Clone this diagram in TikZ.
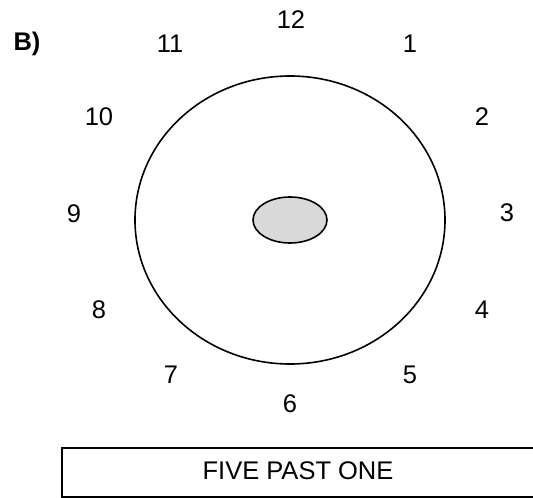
\documentclass[tikz,border=0pt]{standalone}
\usepackage{fontspec}
\setmainfont{Liberation Sans}
\tikzset{
  hour/.style={inner sep=0pt, font=\fontsize{25.5}{30}\selectfont},
}
\begin{document}
\begin{tikzpicture}[x=1pt, y=-1pt]
        \useasboundingbox (0, 0) rectangle (533, 498);
        \coordinate (O) at (290, 220);

        \draw[line width=1.6pt] (O) ellipse [x radius=155, y radius=144];
        \draw[line width=1.6pt, fill=black!15] (O) ellipse [x radius=37, y radius=23];

        \node[hour, font=\fontsize{25.5}{30}\selectfont\bfseries] (label) at (27, 44) {B)};

        \node[hour] (h12) at (291, 20) {12};
        \node[hour] (h1) at (410, 44) {1};
        \node[hour] (h2) at (482, 117) {2};
        \node[hour] (h3) at (507, 213) {3};
        \node[hour] (h4) at (482, 310) {4};
        \node[hour] (h5) at (410, 375) {5};
        \node[hour] (h6) at (290, 404) {6};
        \node[hour] (h7) at (171, 375) {7};
        \node[hour] (h8) at (99, 310) {8};
        \node[hour] (h9) at (74, 214) {9};
        \node[hour] (h10) at (99, 117) {10};
        \node[hour] (h11) at (170, 44) {11};

        % answer box, cut off at the right edge
        \coordinate (A) at (62, 448);
        \coordinate (B) at (62, 497);
        \draw[line width=2pt] (560, 448) -- (A) -- (B) -- (560, 497);
        \node[hour] (answer) at (298, 471) {FIVE PAST ONE};
    \end{tikzpicture}
\end{document}
